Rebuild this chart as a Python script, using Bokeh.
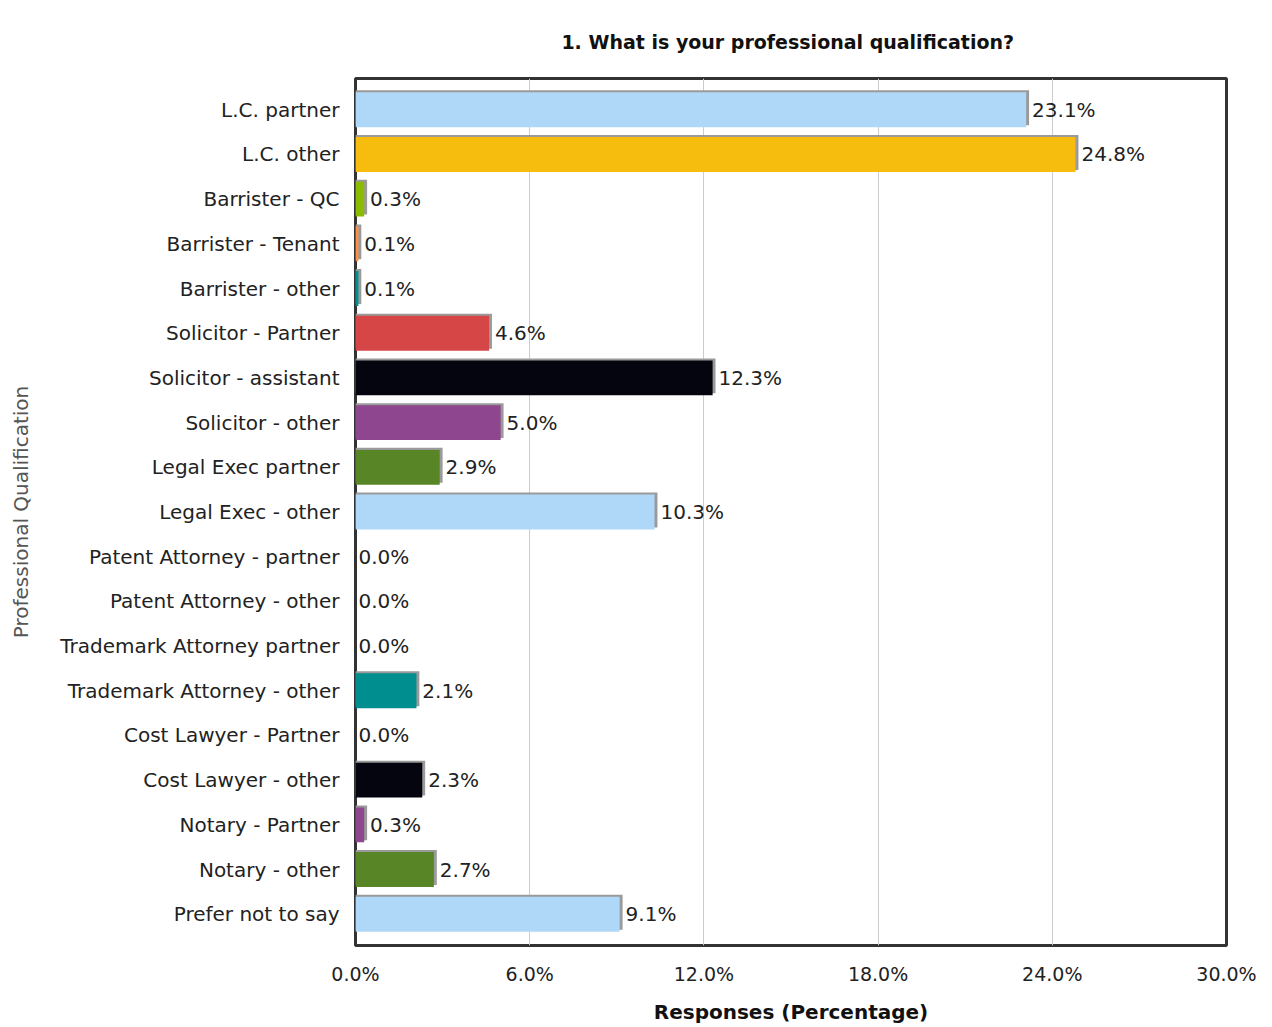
from bokeh.plotting import figure
from bokeh.models import (ColumnDataSource, FactorRange, Range1d, FixedTicker,
                          PrintfTickFormatter, Title)
from bokeh.transform import dodge
from bokeh.embed import file_html
from bokeh.resources import INLINE
from bokeh.core.properties import value

title_text = "1.  What is your professional qualification?"
categories = [
    "L.C. partner", "L.C. other", "Barrister - QC", "Barrister - Tenant",
    "Barrister - other", "Solicitor - Partner", "Solicitor - assistant",
    "Solicitor - other", "Legal Exec partner", "Legal Exec - other",
    "Patent Attorney - partner", "Patent Attorney - other",
    "Trademark Attorney partner", "Trademark Attorney - other",
    "Cost Lawyer - Partner", "Cost Lawyer - other", "Notary - Partner",
    "Notary - other", "Prefer not to say",
]
percentages = [23.1, 24.8, 0.3, 0.1, 0.1, 4.6, 12.3, 5.0, 2.9, 10.3,
               0.0, 0.0, 0.0, 2.1, 0.0, 2.3, 0.3, 2.7, 9.1]
palette = ["#AFD8F8", "#F6BD0F", "#8BBA00", "#FF8E46", "#008E8E",
           "#D64646", "#05050F", "#8E468E", "#588526"]
x_ticks = [0, 6, 12, 18, 24, 30]

FONT = "DejaVu Sans"

colors = [palette[i % len(palette)] for i in range(len(categories))]
labels = ["%.1f%%" % v for v in percentages]
shadow_right = [v + 0.1 if v > 0 else 0 for v in percentages]

src = ColumnDataSource(dict(cat=categories, val=percentages, color=colors,
                            label=labels, shadow=shadow_right))

y_range = FactorRange(factors=list(reversed(categories)), range_padding=0.2,
                      range_padding_units="absolute")
p = figure(width=1264, height=1026, y_range=y_range, x_range=Range1d(0, 30),
           output_backend="svg", toolbar_location=None, title=None,
           min_border_left=355, min_border_right=38, min_border_top=78,
           min_border_bottom=69)

p.add_layout(Title(text=title_text, align="center", standoff=52,
                   text_font=FONT, text_font_size="19px",
                   text_font_style="bold", text_color="#111111"), "above")

# shadow bars
p.hbar(y=dodge("cat", 0.045, range=p.y_range), left=0, right="shadow",
       height=0.78, source=src, fill_color="#9a9a9a", line_color=None)
# main bars
p.hbar(y="cat", left=0, right="val", height=0.78, source=src,
       fill_color="color", line_color=None)
# value labels
p.text(x="shadow", y="cat", text="label", source=src, x_offset=3,
       text_baseline="middle", text_align="left",
       text_font=value(FONT), text_font_size="20px", text_color="#222222")

p.outline_line_color = "#333333"
p.outline_line_width = 3
p.background_fill_color = "white"
p.border_fill_color = "white"

p.ygrid.grid_line_color = None
p.xgrid.grid_line_color = "#cccccc"
p.xgrid.grid_line_width = 1

xax = p.below[0]
yax = p.left[0]
xax.ticker = FixedTicker(ticks=x_ticks)
xax.formatter = PrintfTickFormatter(format="%.1f%%")
for ax in (xax, yax):
    ax.axis_line_color = None
    ax.major_tick_line_color = None
    ax.minor_tick_line_color = None
    ax.major_label_text_font = FONT
    ax.major_label_text_color = "#222222"
    ax.axis_label_text_font = FONT
    ax.axis_label_text_font_size = "20px"

xax.major_label_text_font_size = "19px"
yax.major_label_text_font_size = "20px"

xax.major_label_standoff = 11
xax.axis_label = "Responses (Percentage)"
xax.axis_label_text_font_style = "bold"
xax.axis_label_text_color = "#111111"
xax.axis_label_standoff = 12

yax.major_label_standoff = 10
yax.axis_label = "Professional Qualification"
yax.axis_label_text_font_style = "normal"
yax.axis_label_text_color = "#555555"
yax.axis_label_standoff = 24

open("out.html", "w").write(file_html(p, INLINE))
